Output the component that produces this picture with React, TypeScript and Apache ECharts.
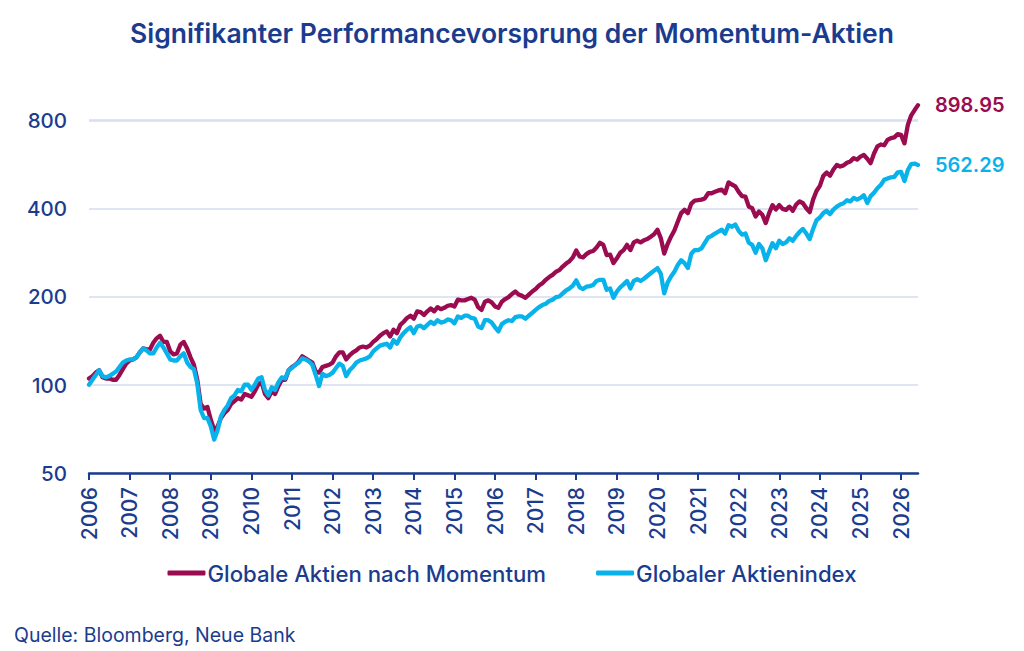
import React, { useEffect, useRef } from 'react';
import * as echarts from 'echarts';

const NAVY = '#1b3c8e';
const MAROON = '#9a0b4f';
const SKY = '#08b2ea';

const years = Array.from({ length: 21 }, (_, i) => String(2006 + i));

// monatliche Werte, Jan 2006 = ~100
const momentum: number[] = [
  105, 107, 110, 112, 106, 105, 105, 104, 104, 108, 113, 118,
  121, 122, 124, 129, 133, 132, 132, 139, 144, 147, 140, 140,
  130, 127, 128, 137, 140, 133, 124, 117, 104, 86, 83, 84,
  76, 70, 72, 77, 80, 82, 86, 88, 90, 89, 93, 92,
  91, 95, 100, 102, 93, 90, 95, 93, 99, 104, 104, 112,
  115, 117, 120, 125, 123, 121, 119, 111, 110, 115, 116, 117,
  119, 125, 129, 129, 122, 126, 129, 131, 134, 135, 134, 136,
  140, 143, 147, 150, 152, 146, 154, 150, 160, 164, 169, 172,
  168, 178, 177, 173, 178, 182, 178, 184, 181, 183, 186, 187,
  185, 195, 194, 194, 196, 198, 195, 184, 180, 192, 194, 191,
  185, 183, 192, 196, 199, 204, 208, 203, 201, 198, 203, 208,
  212, 218, 222, 228, 233, 237, 243, 246, 253, 259, 264, 272,
  287, 274, 272, 279, 284, 286, 294, 305, 300, 277, 278, 260,
  270, 282, 288, 300, 288, 306, 310, 306, 311, 314, 320, 326,
  338, 316, 280, 302, 320, 336, 360, 385, 395, 385, 415, 425,
  426, 428, 432, 450, 450, 455, 460, 463, 450, 490, 482, 475,
  455, 440, 438, 405, 400, 375, 390, 380, 356, 385, 410, 396,
  410, 398, 395, 405, 392, 412, 422, 416, 400, 388, 428, 458,
  477, 515, 530, 516, 542, 562, 555, 560, 572, 578, 593, 586,
  600, 608, 590, 570, 615, 650, 660, 656, 684, 694, 698, 716,
  712, 666, 770, 830, 865, 898.95,
];

const globalIndex: number[] = [
  100, 104, 108, 112, 107, 106, 107, 109, 111, 115, 119, 121,
  122, 122, 124, 129, 133, 131, 128, 128, 134, 139, 134, 128,
  122, 121, 121, 125, 128, 119, 115, 113, 101, 82, 77, 77,
  72, 65, 70, 78, 82, 85, 90, 92, 96, 95, 100, 100,
  96, 100, 105, 106, 96, 92, 98, 96, 102, 106, 105, 112,
  114, 117, 119, 123, 122, 120, 117, 108, 99, 109, 107, 108,
  110, 114, 118, 116, 107, 112, 115, 119, 121, 122, 123, 125,
  130, 133, 136, 137, 138, 134, 142, 138, 145, 150, 154, 157,
  150, 158, 159, 156, 160, 164, 161, 166, 163, 164, 167, 166,
  162, 171, 169, 172, 172, 169, 168, 158, 156, 166, 166, 163,
  157, 152, 161, 164, 166, 165, 170, 171, 171, 168, 172, 176,
  180, 184, 187, 189, 193, 195, 199, 200, 205, 210, 213, 218,
  227, 215, 212, 216, 217, 219, 226, 228, 228, 211, 213, 198,
  208, 215, 220, 226, 213, 226, 229, 226, 230, 235, 240, 245,
  250, 239, 205, 223, 234, 243, 256, 266, 260, 250, 280, 288,
  288, 292, 305, 318, 322, 328, 333, 338, 328, 350, 346, 352,
  335, 325, 328, 305, 300, 282, 302, 292, 266, 285, 304, 292,
  310, 302, 306, 316, 310, 322, 332, 340, 328, 314, 340, 364,
  372, 385, 392, 382, 396, 405, 412, 416, 426, 422, 434, 428,
  434, 443, 417, 440, 452, 468, 480, 500, 505, 510, 512, 530,
  532, 495, 540, 566, 568, 562.29,
];

const months = momentum.map((_, i) => {
  const y = years[Math.floor(i / 12)];
  const m = String((i % 12) + 1).padStart(2, '0');
  return `${y}-${m}`;
});

const yTicks = [50, 100, 200, 400, 800];

const seriesNames = ['Globale Aktien nach Momentum', 'Globaler Aktienindex'];

const isJan = (_: number, v: string) => v.endsWith('-01');

// log-Achse liefert Rundungsfehler (797.86...), auf die nächste Marke setzen
const snapTick = (v: number) =>
  String(yTicks.reduce((a, b) => (Math.abs(b - v) < Math.abs(a - v) ? b : a)));

const App: React.FC = () => {
  const ref = useRef<HTMLDivElement>(null);

  useEffect(() => {
    if (!ref.current) return;
    const chart = echarts.init(ref.current, undefined, { renderer: 'svg' });
    const font = 'Inter, "Noto Sans", sans-serif';

    const option: echarts.EChartsOption = {
      animation: false,
      textStyle: { fontFamily: font },
      title: {
        text: 'Signifikanter Performancevorsprung der Momentum-Aktien',
        left: 'center',
        top: 14,
        textStyle: { color: NAVY, fontSize: 26.5, fontWeight: 600, fontFamily: font },
      },
      grid: { left: 89, right: 106, top: 120, bottom: 178 },
      legend: {
        bottom: 62,
        left: 'center',
        itemGap: 50,
        itemWidth: 38,
        itemHeight: 5,
        icon: 'roundRect',
        textStyle: { color: NAVY, fontSize: 22.2, fontWeight: 500, fontFamily: font, padding: [0, 0, 0, -3] },
        data: seriesNames,
      },
      xAxis: {
        type: 'category',
        data: months,
        boundaryGap: false,
        axisLine: { onZero: false, lineStyle: { color: NAVY, width: 2.5 } },
        axisTick: { interval: isJan, length: 7, lineStyle: { color: NAVY, width: 2 } },
        axisLabel: {
          interval: isJan,
          rotate: 90,
          margin: 14,
          color: NAVY,
          fontSize: 21,
          fontWeight: 500,
          formatter: (v: string) => v.slice(0, 4),
        },
        splitLine: { show: false },
      },
      yAxis: {
        type: 'log',
        logBase: 2,
        min: yTicks[0],
        max: yTicks[yTicks.length - 1],
        interval: 1,
        axisLine: { show: false },
        axisTick: { show: false },
        axisLabel: { color: NAVY, fontSize: 20.5, fontWeight: 500, margin: 22, formatter: snapTick },
        splitLine: { lineStyle: { color: '#d4dcef', width: 1.5 } },
      },
      series: [
        {
          name: seriesNames[0],
          type: 'line',
          data: momentum,
          showSymbol: false,
          clip: false,
          lineStyle: { color: MAROON, width: 4.3, join: 'round', cap: 'round' },
          itemStyle: { color: MAROON },
          endLabel: {
            show: true,
            distance: 17,
            color: MAROON,
            fontSize: 20,
            fontWeight: 600,
            formatter: () => momentum[momentum.length - 1].toFixed(2),
          },
        },
        {
          name: seriesNames[1],
          type: 'line',
          data: globalIndex,
          showSymbol: false,
          clip: false,
          lineStyle: { color: SKY, width: 4.3, join: 'round', cap: 'round' },
          itemStyle: { color: SKY },
          endLabel: {
            show: true,
            distance: 17,
            color: SKY,
            fontSize: 20,
            fontWeight: 600,
            formatter: () => globalIndex[globalIndex.length - 1].toFixed(2),
          },
        },
      ],
      graphic: [
        {
          type: 'text',
          left: 14,
          top: 625,
          style: { text: 'Quelle: Bloomberg, Neue Bank', fill: NAVY, fontSize: 19.5, fontFamily: font },
        },
      ],
    };

    chart.setOption(option);
    return () => chart.dispose();
  }, []);

  return (
    <div style={{ position: 'absolute', left: 0, top: 0, width: 1024, height: 651, background: '#fff' }}>
      <div ref={ref} style={{ width: 1024, height: 651 }} />
    </div>
  );
};

export default App;
